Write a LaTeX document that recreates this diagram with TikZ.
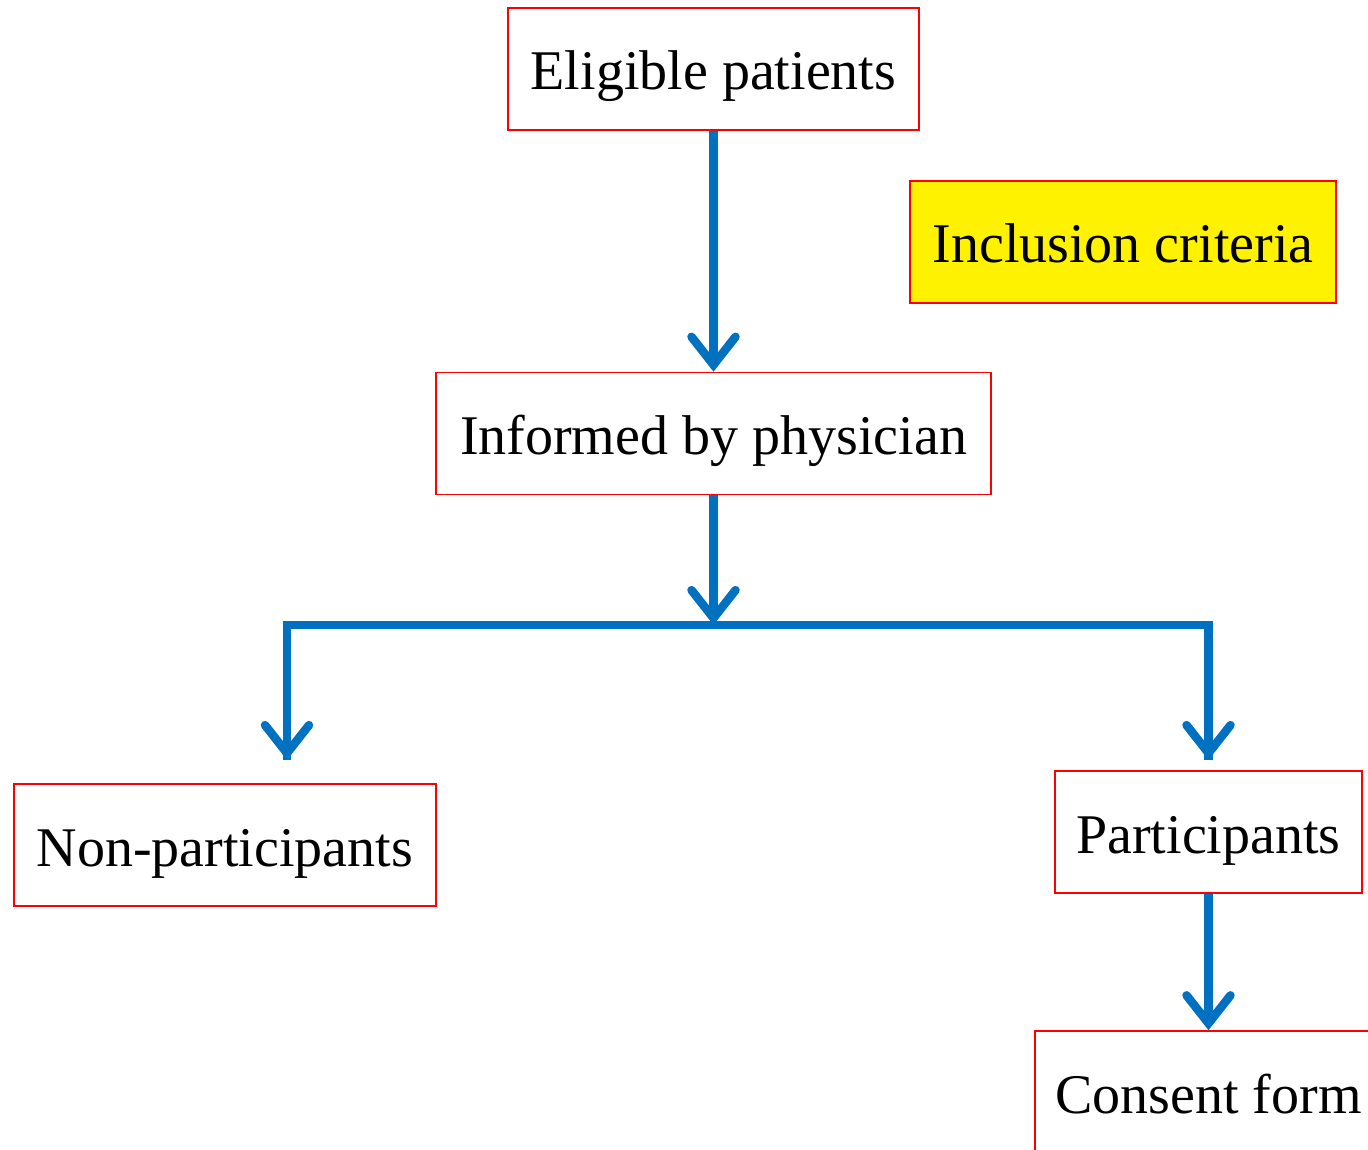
\documentclass[tikz,border=0pt]{standalone}
\usepackage{fontspec}
\setmainfont{Liberation Serif}
\usepackage{tikz}
\usetikzlibrary{arrows.meta}
\definecolor{flowblue}{RGB}{0,112,192}

\begin{document}
\begin{tikzpicture}[
      x=1pt, y=-1pt,
      stage/.style={draw=red, line width=1.6pt, rectangle, minimum height=122pt, inner sep=0pt, text height=46pt, text depth=4pt},
      flow/.style={draw=flowblue, line width=8.5pt, -{Straight Barb[length=28pt, width=44pt, line cap=round]}},
      every node/.style={font=\fontsize{56}{60}\selectfont}
    ]
      \useasboundingbox (0,0) rectangle (1368,1150);

      \node[stage, minimum width=411pt] (elig) at (713.5,69) {Eligible patients};
      \node[stage, minimum width=426pt, fill=yellow] (incl) at (1123,242) {Inclusion criteria};
      \node[stage, minimum width=555pt] (info) at (713.5,433.5) {Informed by physician};
      \node[stage, minimum width=422pt] (nonp) at (225,845) {Non-participants};
      \node[stage, minimum width=307pt] (part) at (1208.5,832) {Participants};
      \node[stage, minimum width=347pt] (cons) at (1208.5,1092) {Consent form};

      \coordinate (split) at (713.5,625);
      \coordinate (lefttip) at (287,760);
      \coordinate (righttip) at (1208.5,760);

      \draw[flow] (elig) -- (info);
      \draw[flow] (info) -- (split);
      \draw[flow, -] (split) -| (lefttip);
      \draw[flow] (287,625) -- (lefttip);
      \draw[flow, -] (split) -| (righttip);
      \draw[flow] (1208.5,625) -- (righttip);
      \draw[flow] (part) -- (cons);
    \end{tikzpicture}
\end{document}
